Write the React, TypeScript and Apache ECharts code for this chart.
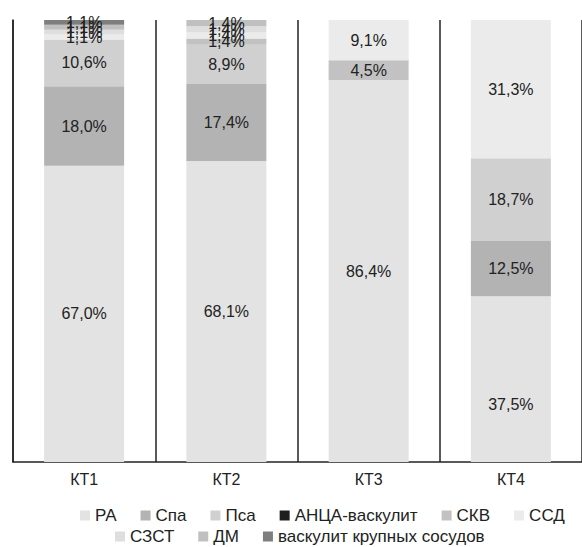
import React, { useEffect, useRef } from "react";
import * as echarts from "echarts";

const categories = ["КТ1", "КТ2", "КТ3", "КТ4"];
const seriesNames = [
  "РА",
  "Спа",
  "Пса",
  "АНЦА-васкулит",
  "СКВ",
  "ССД",
  "СЗСТ",
  "ДМ",
  "васкулит крупных сосудов",
];
const ra = [67.0, 68.1, 86.4, 37.5];
const spa = [18.0, 17.4, 0, 12.5];
const psa = [10.6, 8.9, 0, 18.7];
const anca = [0, 0, 0, 0];
const skv = [0, 1.4, 4.5, 0];
const ssd = [1.1, 1.4, 9.1, 31.3];
const szst = [1.1, 1.4, 0, 0];
const dm = [1.1, 1.4, 0, 0];
const vask = [1.1, 0, 0, 0];
const seriesValues = [ra, spa, psa, anca, skv, ssd, szst, dm, vask];
const seriesColors = [
  "#e3e3e3",
  "#b3b3b3",
  "#d0d0d0",
  "#1e1e1e",
  "#c2c2c2",
  "#ebebeb",
  "#dedede",
  "#c0c0c0",
  "#7e7e7e",
];

const FONT = "'Liberation Sans', Arial, sans-serif";

export default function App() {
  const ref = useRef<HTMLDivElement>(null);
  useEffect(() => {
    if (!ref.current) return;
    const chart = echarts.init(ref.current, undefined, { renderer: "svg" });
    const fmt = (p: any) => {
      const v = typeof p.value === "number" ? p.value : Number(p.value);
      if (!v) return "";
      return v.toFixed(1).replace(".", ",") + "%";
    };
    const legendCommon = {
      icon: "rect",
      itemWidth: 10,
      itemHeight: 10,
      itemGap: 24,
      padding: 0,
      textStyle: { fontSize: 17, color: "#222", fontFamily: FONT },
    };
    chart.setOption({
      animation: false,
      backgroundColor: "#ffffff",
      grid: { left: 13, right: 0, top: 20, bottom: 85 },
      legend: [
        { ...legendCommon, data: seriesNames.slice(0, 6), left: 80, top: 507 },
        { ...legendCommon, data: seriesNames.slice(6), left: 115, top: 528 },
      ],
      xAxis: {
        type: "category",
        data: categories,
        axisLine: { show: true, lineStyle: { color: "#222", width: 1.5 } },
        axisTick: { show: false },
        splitLine: { show: true, lineStyle: { color: "#222", width: 1.5 } },
        axisLabel: {
          color: "#222",
          fontSize: 16,
          fontFamily: FONT,
          margin: 9,
        },
      },
      yAxis: {
        type: "value",
        min: 0,
        max: 100,
        axisLine: { show: true, lineStyle: { color: "#222", width: 1.5 } },
        axisTick: { show: false },
        axisLabel: { show: false },
        splitLine: { show: false },
      },
      series: seriesNames.map((name, si) => ({
        name,
        type: "bar",
        stack: "total",
        barWidth: 80,
        itemStyle: { color: seriesColors[si] },
        label: {
          show: true,
          position: "inside",
          formatter: fmt,
          color: "#222",
          fontSize: 16,
          fontFamily: FONT,
        },
        data: seriesValues[si].map((v, ci) =>
          si === 0 && ci === 3
            ? { value: v, label: { offset: [0, 25] } }
            : v
        ),
      })),
    });
    return () => chart.dispose();
  }, []);
  return (
    <div
      ref={ref}
      style={{ position: "absolute", left: 0, top: 0, width: 582, height: 547 }}
    />
  );
}
